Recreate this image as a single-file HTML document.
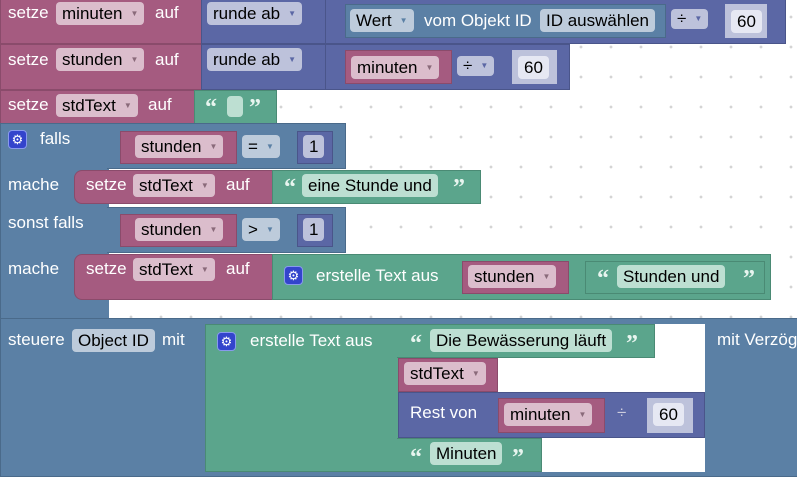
<!DOCTYPE html>
<html><head><meta charset="utf-8"><style>
*{margin:0;padding:0;box-sizing:border-box}
body{width:797px;height:479px;overflow:hidden;position:relative;background:#fff;
background-image:radial-gradient(circle,#d4d4d4 1.2px,transparent 1.6px);background-size:30px 30px;background-position:-4px 2px;
font-family:"Liberation Sans",Arial,sans-serif;font-size:17px;color:#fff}
.b{position:absolute}
.v{background:#a55b80;border:1px solid #8a4b6b}
.m{background:#5b67a5;border:1px solid #4a558a}
.l{background:#5b80a5;border:1px solid #4a6a8a}
.t{background:#5ba58c;border:1px solid #4a8a74}
.w{background:#fff}
.tx{position:absolute;white-space:nowrap;line-height:20px}
.f{position:absolute;border-radius:4px;color:#000;line-height:23px;height:23px;padding:0 6px;white-space:nowrap}
.fv{background:#dbbdcc}.fm{background:#bdc2db}.fl{background:#bdcbdb}.ft{background:#bddfd2}
.dd{font-size:8px;color:#8a6a7a;margin-left:8px;vertical-align:3px}
.g{position:absolute;width:19px;height:19px;border-radius:4px;background:#3344cc;border:1px solid #8899ee;color:#fff;font-size:13px;line-height:17px;text-align:center}
.q{position:absolute;font-weight:bold;font-size:24px;line-height:22px;color:#e8f5ef;font-family:"Liberation Serif",serif}
</style></head><body>

<!-- row1 -->
<div class="b v" style="left:0;top:-6px;width:202px;height:50px"></div>
<div class="tx" style="left:8px;top:3px">setze</div>
<div class="f fv" style="left:56px;top:2px">minuten<span class="dd">▼</span></div>
<div class="tx" style="left:155px;top:3px">auf</div>
<div class="b m" style="left:201px;top:-6px;width:585px;height:50px"></div>
<div class="f fm" style="left:207px;top:2px">runde ab<span class="dd" style="color:#5b67a5">▼</span></div>
<div class="b m" style="left:325px;top:-6px;width:461px;height:50px"></div>
<div class="b l" style="left:345px;top:4px;width:321px;height:34px"></div>
<div class="f fl" style="left:350px;top:9px">Wert<span class="dd" style="color:#5b80a5">▼</span></div>
<div class="tx" style="left:424px;top:11px">vom Objekt ID</div>
<div class="f fl" style="left:540px;top:9px">ID auswählen</div>
<div class="f fm" style="left:671px;top:9px;height:20px;line-height:20px">÷<span class="dd" style="color:#5b67a5">▼</span></div>
<div class="b" style="left:725px;top:4px;width:42px;height:34px;background:#bdc2db"></div>
<div class="f" style="left:731px;top:10px;background:#e6e8f3">60</div>

<!-- row2 -->
<div class="b v" style="left:0;top:44px;width:202px;height:46px"></div>
<div class="tx" style="left:8px;top:50px">setze</div>
<div class="f fv" style="left:56px;top:48px">stunden<span class="dd">▼</span></div>
<div class="tx" style="left:155px;top:50px">auf</div>
<div class="b m" style="left:201px;top:44px;width:369px;height:46px"></div>
<div class="f fm" style="left:207px;top:48px">runde ab<span class="dd" style="color:#5b67a5">▼</span></div>
<div class="b m" style="left:325px;top:44px;width:245px;height:46px"></div>
<div class="b v" style="left:345px;top:50px;width:107px;height:34px"></div>
<div class="f fv" style="left:351px;top:56px">minuten<span class="dd">▼</span></div>
<div class="f fm" style="left:457px;top:56px;height:20px;line-height:20px">÷<span class="dd" style="color:#5b67a5">▼</span></div>
<div class="b" style="left:512px;top:50px;width:45px;height:34px;background:#bdc2db"></div>
<div class="f" style="left:518px;top:56px;background:#e6e8f3">60</div>

<!-- row3 -->
<div class="b v" style="left:0;top:90px;width:196px;height:34px"></div>
<div class="tx" style="left:8px;top:95px">setze</div>
<div class="f fv" style="left:56px;top:94px">stdText<span class="dd">▼</span></div>
<div class="tx" style="left:148px;top:95px">auf</div>
<div class="b t" style="left:194px;top:90px;width:83px;height:34px"></div>
<div class="q" style="left:205px;top:97px">“</div>
<div class="b" style="left:227px;top:96px;width:16px;height:21px;border-radius:4px;background:#bddfd2"></div>
<div class="q" style="left:249px;top:97px">”</div>

<!-- if block -->
<div class="b l" style="left:0;top:123px;width:109px;height:197px;border-right:none"></div>
<div class="b l" style="left:107px;top:123px;width:239px;height:46px;border-left:none"></div>
<div class="b l" style="left:107px;top:207px;width:239px;height:46px;border-left:none"></div>
<div class="g" style="left:8px;top:130px">⚙</div>
<div class="tx" style="left:40px;top:129px">falls</div>
<div class="b v" style="left:120px;top:131px;width:117px;height:33px"></div>
<div class="f fv" style="left:135px;top:135px">stunden<span class="dd">▼</span></div>
<div class="f fl" style="left:242px;top:135px">=<span class="dd" style="color:#5b80a5">▼</span></div>
<div class="b m" style="left:297px;top:131px;width:36px;height:33px"></div>
<div class="f fm" style="left:303px;top:135px">1</div>
<div class="tx" style="left:8px;top:175px">mache</div>
<div class="b v" style="left:74px;top:170px;width:199px;height:34px;border-radius:8px 0 0 8px"></div>
<div class="tx" style="left:86px;top:175px">setze</div>
<div class="f fv" style="left:133px;top:174px">stdText<span class="dd">▼</span></div>
<div class="tx" style="left:226px;top:175px">auf</div>
<div class="b t" style="left:272px;top:170px;width:209px;height:34px"></div>
<div class="q" style="left:284px;top:177px">“</div>
<div class="f ft" style="left:302px;top:174px">eine Stunde und</div>
<div class="q" style="left:453px;top:177px">”</div>

<div class="tx" style="left:8px;top:213px">sonst falls</div>
<div class="b v" style="left:120px;top:214px;width:117px;height:33px"></div>
<div class="f fv" style="left:135px;top:218px">stunden<span class="dd">▼</span></div>
<div class="f fl" style="left:242px;top:218px">&gt;<span class="dd" style="color:#5b80a5">▼</span></div>
<div class="b m" style="left:297px;top:214px;width:36px;height:33px"></div>
<div class="f fm" style="left:303px;top:218px">1</div>
<div class="tx" style="left:8px;top:259px">mache</div>
<div class="b v" style="left:74px;top:254px;width:199px;height:46px;border-radius:8px 0 0 8px"></div>
<div class="tx" style="left:86px;top:259px">setze</div>
<div class="f fv" style="left:133px;top:258px">stdText<span class="dd">▼</span></div>
<div class="tx" style="left:226px;top:259px">auf</div>
<div class="b t" style="left:272px;top:254px;width:499px;height:46px"></div>
<div class="g" style="left:284px;top:266px">⚙</div>
<div class="tx" style="left:316px;top:266px">erstelle Text aus</div>
<div class="b v" style="left:462px;top:261px;width:107px;height:33px"></div>
<div class="f fv" style="left:468px;top:265px">stunden<span class="dd">▼</span></div>
<div class="b t" style="left:585px;top:261px;width:180px;height:33px"></div>
<div class="q" style="left:597px;top:268px">“</div>
<div class="f ft" style="left:617px;top:265px">Stunden und</div>
<div class="q" style="left:743px;top:268px">”</div>

<!-- steuere -->
<div class="b l" style="left:0;top:318px;width:800px;height:159px"></div>
<div class="tx" style="left:8px;top:330px">steuere</div>
<div class="f fl" style="left:72px;top:329px">Object ID</div>
<div class="tx" style="left:162px;top:330px">mit</div>
<div class="tx" style="left:717px;top:330px">mit Verzög</div>
<div class="b w" style="left:398px;top:324px;width:307px;height:148px"></div>
<div class="b t" style="left:205px;top:324px;width:194px;height:148px;border-right:none"></div>
<div class="g" style="left:217px;top:332px">⚙</div>
<div class="tx" style="left:250px;top:331px">erstelle Text aus</div>
<div class="b t" style="left:397px;top:324px;width:258px;height:34px;border-left:none"></div>
<div class="q" style="left:410px;top:333px">“</div>
<div class="f ft" style="left:430px;top:329px">Die Bewässerung läuft</div>
<div class="q" style="left:626px;top:333px">”</div>
<div class="b v" style="left:398px;top:358px;width:100px;height:34px"></div>
<div class="f fv" style="left:404px;top:362px">stdText<span class="dd">▼</span></div>
<div class="b m" style="left:398px;top:392px;width:307px;height:46px"></div>
<div class="tx" style="left:410px;top:403px">Rest von</div>
<div class="b v" style="left:498px;top:398px;width:107px;height:35px"></div>
<div class="f fv" style="left:504px;top:403px">minuten<span class="dd">▼</span></div>
<div class="tx" style="left:617px;top:403px;color:#ccd">÷</div>
<div class="b" style="left:647px;top:398px;width:46px;height:35px;background:#bdc2db"></div>
<div class="f" style="left:653px;top:403px;background:#e6e8f3">60</div>
<div class="b t" style="left:397px;top:438px;width:145px;height:34px;border-left:none"></div>
<div class="q" style="left:410px;top:447px">“</div>
<div class="f ft" style="left:430px;top:442px">Minuten</div>
<div class="q" style="left:512px;top:447px">”</div>
</body></html>
